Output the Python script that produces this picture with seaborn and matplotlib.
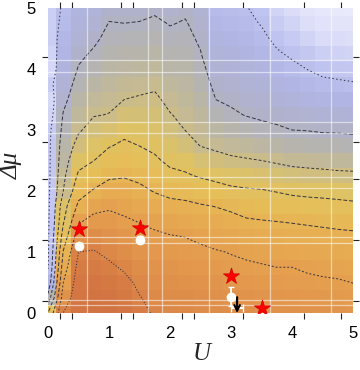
import numpy as np
import matplotlib
matplotlib.use('Agg')
import matplotlib.pyplot as plt
import seaborn as sns
from matplotlib.colors import LinearSegmentedColormap
sns.set_theme(style='ticks')
plt.rcParams['font.family'] = ['Liberation Sans', 'DejaVu Sans']

# grid nodes (U, delta mu), 0.25 apart
u_nodes = np.linspace(0, 5, 21)
dmu_nodes = np.linspace(0, 5, 21)

# one list per U column, values from delta mu = 0 up to 5
cols = [
    [0.50, 0.33, 0.22, 0.175, 0.165, 0.16, 0.16, 0.155, 0.155, 0.15, 0.15, 0.15, 0.145, 0.12, 0.11, 0.14, 0.11, 0.12, 0.135, 0.13, 0.13],
    [0.80, 0.75, 0.70, 0.65, 0.605, 0.545, 0.49, 0.46, 0.40, 0.38, 0.36, 0.345, 0.325, 0.305, 0.28, 0.26, 0.24, 0.225, 0.21, 0.20, 0.19],
    [0.85, 0.85, 0.845, 0.83, 0.80, 0.749, 0.691, 0.62, 0.564, 0.515, 0.469, 0.426, 0.391, 0.37, 0.348, 0.326, 0.305, 0.285, 0.265, 0.245, 0.23],
    [0.86, 0.86, 0.85, 0.83, 0.805, 0.765, 0.725, 0.676, 0.608, 0.552, 0.499, 0.463, 0.428, 0.396, 0.374, 0.352, 0.33, 0.309, 0.287, 0.266, 0.245],
    [0.86, 0.855, 0.84, 0.815, 0.782, 0.753, 0.724, 0.691, 0.638, 0.587, 0.54, 0.493, 0.447, 0.402, 0.384, 0.368, 0.351, 0.335, 0.318, 0.302, 0.285],
    [0.85, 0.84, 0.822, 0.789, 0.763, 0.738, 0.712, 0.678, 0.636, 0.594, 0.554, 0.515, 0.476, 0.438, 0.40, 0.38, 0.36, 0.34, 0.32, 0.30, 0.285],
    [0.825, 0.804, 0.783, 0.762, 0.741, 0.719, 0.697, 0.658, 0.62, 0.58, 0.538, 0.498, 0.467, 0.437, 0.406, 0.384, 0.363, 0.343, 0.322, 0.302, 0.285],
    [0.79, 0.775, 0.76, 0.745, 0.73, 0.712, 0.685, 0.64, 0.595, 0.553, 0.512, 0.483, 0.459, 0.435, 0.411, 0.39, 0.37, 0.35, 0.33, 0.31, 0.29],
    [0.78, 0.77, 0.755, 0.74, 0.725, 0.705, 0.668, 0.625, 0.577, 0.52, 0.483, 0.457, 0.43, 0.403, 0.385, 0.367, 0.349, 0.332, 0.314, 0.297, 0.28],
    [0.775, 0.765, 0.75, 0.735, 0.72, 0.699, 0.659, 0.619, 0.569, 0.51, 0.47, 0.433, 0.399, 0.385, 0.371, 0.358, 0.345, 0.331, 0.318, 0.304, 0.29],
    [0.77, 0.76, 0.745, 0.73, 0.715, 0.686, 0.647, 0.608, 0.551, 0.492, 0.441, 0.397, 0.381, 0.366, 0.35, 0.334, 0.319, 0.303, 0.29, 0.28, 0.27],
    [0.765, 0.755, 0.74, 0.725, 0.705, 0.673, 0.636, 0.598, 0.535, 0.477, 0.425, 0.385, 0.357, 0.328, 0.30, 0.283, 0.266, 0.249, 0.232, 0.215, 0.20],
    [0.76, 0.75, 0.735, 0.715, 0.697, 0.662, 0.627, 0.584, 0.518, 0.463, 0.412, 0.375, 0.343, 0.31, 0.29, 0.273, 0.256, 0.239, 0.222, 0.205, 0.19],
    [0.76, 0.745, 0.73, 0.71, 0.689, 0.65, 0.611, 0.563, 0.51, 0.458, 0.406, 0.367, 0.33, 0.297, 0.28, 0.263, 0.246, 0.229, 0.212, 0.196, 0.183],
    [0.755, 0.74, 0.725, 0.706, 0.68, 0.642, 0.605, 0.556, 0.506, 0.453, 0.40, 0.359, 0.318, 0.289, 0.271, 0.252, 0.233, 0.214, 0.195, 0.176, 0.16],
    [0.75, 0.737, 0.72, 0.70, 0.671, 0.636, 0.60, 0.548, 0.496, 0.441, 0.39, 0.35, 0.31, 0.282, 0.258, 0.235, 0.212, 0.188, 0.165, 0.142, 0.12],
    [0.75, 0.735, 0.718, 0.70, 0.666, 0.631, 0.596, 0.54, 0.484, 0.429, 0.381, 0.34, 0.30, 0.274, 0.248, 0.222, 0.196, 0.17, 0.145, 0.12, 0.095],
    [0.745, 0.73, 0.714, 0.691, 0.659, 0.627, 0.591, 0.534, 0.478, 0.424, 0.377, 0.337, 0.298, 0.268, 0.238, 0.208, 0.179, 0.15, 0.12, 0.09, 0.07],
    [0.745, 0.728, 0.71, 0.684, 0.654, 0.623, 0.586, 0.53, 0.474, 0.42, 0.374, 0.333, 0.293, 0.261, 0.228, 0.196, 0.163, 0.13, 0.10, 0.075, 0.06],
    [0.74, 0.725, 0.707, 0.678, 0.649, 0.619, 0.58, 0.524, 0.47, 0.415, 0.371, 0.331, 0.292, 0.258, 0.225, 0.191, 0.157, 0.125, 0.095, 0.07, 0.055],
    [0.735, 0.72, 0.699, 0.671, 0.643, 0.616, 0.575, 0.518, 0.465, 0.413, 0.369, 0.328, 0.289, 0.255, 0.22, 0.186, 0.15, 0.12, 0.09, 0.07, 0.05],
]
levels = [0.18, 0.30, 0.40, 0.50, 0.60, 0.70, 0.80]

# markers
star_u = [0.5, 1.5, 3.0, 3.5]
star_dmu = [1.38, 1.39, 0.61, 0.08]
dot_u = [0.5, 1.5, 3.0]
dot_dmu = [1.10, 1.20, 0.27]
dot_err = [0.05, 0.06, 0.15]
bound_u = 3.1
bound_dmu = 0.08
bound_uerr = 0.1

# white guide lines
vlines = [0.64, 1.64, 1.87, 2.64, 3.64, 4.64]
hlines = [4.15, 3.95, 3.13, 2.95, 2.23, 2.05, 1.25, 1.15, 0.22, 0.13]

# frame ticks
xminor = [0.2, 0.4, 1.2, 1.4, 2.2, 2.4, 3.0, 3.2, 4.0, 4.2, 4.8, 5.0]
yminor = [0.0, 0.2, 1.0, 1.2, 2.0, 2.2, 2.8, 3.0, 4.0, 4.2, 5.0]

cmap = LinearSegmentedColormap.from_list('dens', [
    (0.00, (236/255, 237/255, 252/255)),
    (0.07, (218/255, 220/255, 248/255)),
    (0.146, (192/255, 196/255, 240/255)),
    (0.22, (176/255, 181/255, 228/255)),
    (0.293, (176/255, 178/255, 205/255)),
    (0.366, (182/255, 180/255, 172/255)),
    (0.439, (202/255, 188/255, 138/255)),
    (0.524, (222/255, 194/255, 100/255)),
    (0.622, (230/255, 190/255, 88/255)),
    (0.72, (231/255, 174/255, 82/255)),
    (0.829, (228/255, 156/255, 78/255)),
    (0.927, (218/255, 130/255, 70/255)),
    (1.00, (210/255, 116/255, 66/255)),
])

Z = np.array(cols).T

fig = plt.figure(figsize=(3.6, 3.7), dpi=100)
ax = fig.add_axes([48/360, 1 - 313/370, 305/360, 305/370])

ax.pcolormesh(u_nodes, dmu_nodes, Z, shading='nearest', cmap=cmap, vmin=0.04, vmax=0.86)
ax.contour(u_nodes, dmu_nodes, Z, levels=levels, colors='#34343f', linewidths=0.7,
           linestyles=[(0, (1.5, 2.5)), (0, (4, 2)), (0, (3, 2)), (0, (4, 2)),
                       (0, (4, 2)), (0, (2, 2)), (0, (1.2, 1.8))])

for v in vlines:
    ax.axvline(v, color='white', lw=0.9, alpha=0.55)
for h in hlines:
    ax.axhline(h, color='white', lw=0.9, alpha=0.55)

ax.errorbar(dot_u, dot_dmu, yerr=dot_err, fmt='o', color='white', ms=6,
            ecolor='white', elinewidth=1.3, capsize=2.5, zorder=4)
ax.errorbar(bound_u, bound_dmu, xerr=bound_uerr, fmt='none', ecolor='white',
            elinewidth=1.5, capsize=3, zorder=4)
ax.annotate('', xy=(bound_u, 0.0), xytext=(bound_u, 0.26),
            arrowprops=dict(arrowstyle='->', color='black', lw=1.5, mutation_scale=10,
                            shrinkA=0, shrinkB=0),
            zorder=5, annotation_clip=False)
sns.scatterplot(x=star_u, y=star_dmu, marker='*', s=150, color='red',
                edgecolor='#d00000', linewidth=0.5, ax=ax, zorder=6, legend=False)

ax.set_xlim(0, 5)
ax.set_ylim(0, 5)
for s in ax.spines.values():
    s.set_visible(False)
ax.set_xticks(range(6))
ax.set_yticks(range(6))
ax.set_xticks(xminor, minor=True)
ax.set_yticks(yminor, minor=True)
ax.tick_params(which='major', length=0, pad=9, labelsize=12, colors='black')
ax.tick_params(which='minor', direction='out', length=4, width=0.8, color='#222222',
               top=True, right=True, bottom=True, left=True)

fig.text(12/360, 1 - 165/370, 'Δμ', rotation=90, ha='center', va='center',
         fontsize=18, family='Liberation Serif', style='italic')
fig.text(202/360, 1 - 354/370, 'U', ha='center', va='center',
         fontsize=18, family='Liberation Serif', style='italic')

fig.savefig('out.png', dpi=100)
